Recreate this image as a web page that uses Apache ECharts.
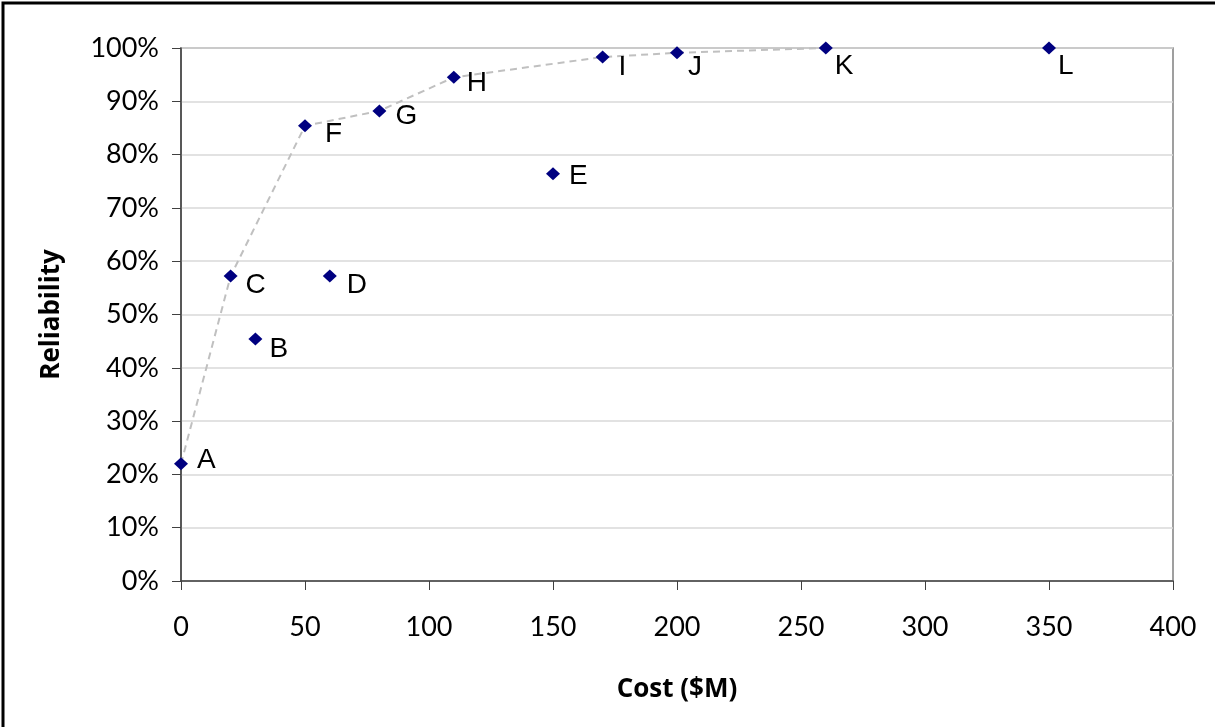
<!DOCTYPE html>
<html>
<head>
<meta charset="utf-8">
<script src="https://cdn.jsdelivr.net/npm/echarts@6/dist/echarts.min.js"></script>
<style>
html,body{margin:0;padding:0;background:#fff;}
#chart{width:1215px;height:727px;}
</style>
</head>
<body>
<div id="chart"></div>
<script>
// ---- data ----
const pointNames = ['A','B','C','D','E','F','G','H','I','J','K','L'];
const costValues = [0, 30, 20, 60, 150, 50, 80, 110, 170, 200, 260, 350];
const reliabilityValues = [22, 45.4, 57.2, 57.2, 76.4, 85.4, 88.2, 94.5, 98.3, 99.1, 100, 100];
const frontierNames = ['A','C','F','G','H','I','J','K'];
const xTicks = [0, 50, 100, 150, 200, 250, 300, 350, 400];
const yTicks = [0, 10, 20, 30, 40, 50, 60, 70, 80, 90, 100];
// label nudges (style only)
const labelOffsets = {
  A:[1,-3], B:[-1,10], C:[0,9], D:[2,9], E:[1,2], F:[5,8],
  G:[1,5], H:[-2,6], I:[1,10], J:[-4,14], K:[-6,18], L:[-6,18]
};

const pts = pointNames.map((n,i)=>({
  name:n,
  value:[costValues[i], reliabilityValues[i]],
  label:{offset: labelOffsets[n]}
}));
const frontier = frontierNames.map(n=>{
  const i = pointNames.indexOf(n);
  return [costValues[i], reliabilityValues[i]];
});

const chart = echarts.init(document.getElementById('chart'));
chart.setOption({
  animation:false,
  backgroundColor:'#fff',
  graphic:[{
    type:'rect', silent:true,
    shape:{x:3, y:3, width:1400, height:900},
    style:{fill:'none', stroke:'#000', lineWidth:3}
  }],
  grid:{left:181, right:42, top:48, bottom:146, show:true, borderColor:'#808080', borderWidth:1.5, backgroundColor:'transparent'},
  xAxis:{
    type:'value', min:xTicks[0], max:xTicks[xTicks.length-1], interval:xTicks[1]-xTicks[0],
    name:'Cost ($M)', nameLocation:'middle', nameGap:96,
    nameTextStyle:{fontFamily:'Open Sans', fontWeight:'bold', fontSize:26, color:'#000'},
    axisLine:{show:true, lineStyle:{color:'#404040', width:1.5}},
    axisTick:{show:true, length:9, lineStyle:{color:'#404040', width:1}},
    axisLabel:{fontFamily:'Lato', fontSize:27, color:'#000', margin:33},
    splitLine:{show:false}
  },
  yAxis:{
    type:'value', min:yTicks[0], max:yTicks[yTicks.length-1], interval:yTicks[1]-yTicks[0],
    name:'Reliability', nameLocation:'middle', nameGap:116, nameRotate:90,
    nameTextStyle:{fontFamily:'Open Sans', fontWeight:'bold', fontSize:26, color:'#000'},
    axisLine:{show:true, lineStyle:{color:'#404040', width:1.5}},
    axisTick:{show:true, length:9, lineStyle:{color:'#404040', width:1}},
    axisLabel:{fontFamily:'Lato', fontSize:27, color:'#000', margin:22, formatter:'{value}%'},
    splitLine:{show:true, lineStyle:{color:'#d9d9d9', width:1.5}}
  },
  series:[
    {
      type:'line', data:frontier, symbol:'none', silent:true, z:1,
      lineStyle:{color:'#c0c0c0', width:2, type:[7,5]}
    },
    {
      type:'scatter', data:pts, symbol:'diamond', symbolSize:[14,13], z:3,
      itemStyle:{color:'#000080', opacity:1},
      label:{show:true, position:'right', distance:8, formatter:'{b}',
        fontFamily:'Liberation Sans', fontSize:28, color:'#000'}
    }
  ]
});
</script>
</body>
</html>
